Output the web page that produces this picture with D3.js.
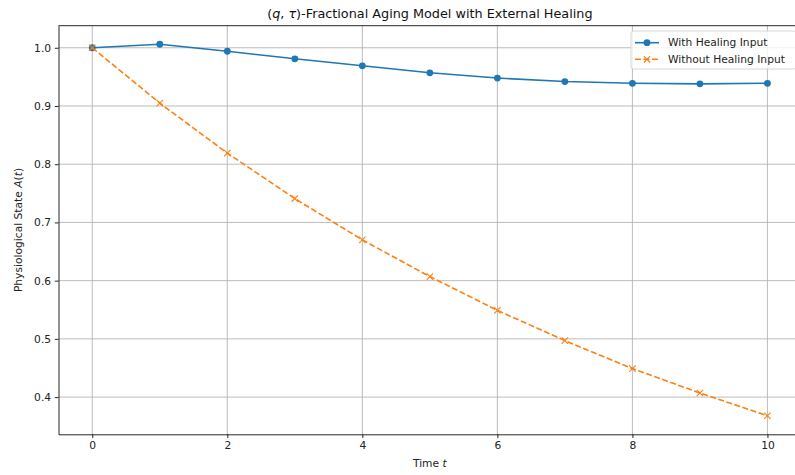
<!DOCTYPE html>
<html>
<head>
<meta charset="utf-8">
<script src="https://cdn.jsdelivr.net/npm/d3@7"></script>
<style>
  body { margin: 0; background: #fff; }
  text { font-family: "DejaVu Sans", sans-serif; }
</style>
</head>
<body>
<div id="wrapper"></div>
<script>
// data
const times = [0, 1, 2, 3, 4, 5, 6, 7, 8, 9, 10]
const withHealing = [1.000, 1.006, 0.994, 0.981, 0.969, 0.957, 0.948, 0.942, 0.939, 0.938, 0.939]
const withoutHealing = [1.000, 0.905, 0.819, 0.741, 0.670, 0.607, 0.549, 0.497, 0.449, 0.407, 0.368]
const xTicks = [0, 2, 4, 6, 8, 10]
const yTicks = [0.4, 0.5, 0.6, 0.7, 0.8, 0.9, 1.0]
const seriesNames = ["With Healing Input", "Without Healing Input"]
const colors = ["#1f77b4", "#ff7f0e"]

function drawChart() {
  const xAccessor = d => d.t
  const yAccessor = d => d.v

  const series = [withHealing, withoutHealing].map((vals, i) => ({
    name: seriesNames[i],
    color: colors[i],
    values: vals.map((v, j) => ({ t: times[j], v: v })),
  }))

  let dimensions = {
    width: 795,
    height: 475,
    margin: {
      top: 25.7,
      right: -6.2,
      bottom: 40.7,
      left: 58.5,
    },
  }
  dimensions.boundedWidth = dimensions.width
    - dimensions.margin.left
    - dimensions.margin.right
  dimensions.boundedHeight = dimensions.height
    - dimensions.margin.top
    - dimensions.margin.bottom

  const wrapper = d3.select("#wrapper")
    .append("svg")
    .attr("width", dimensions.width)
    .attr("height", dimensions.height)

  const bounds = wrapper.append("g")
    .attr("transform", `translate(${dimensions.margin.left}, ${dimensions.margin.top})`)

  // matplotlib style 5% margins
  const xExt = d3.extent(times)
  const xPad = (xExt[1] - xExt[0]) * 0.05
  const allY = withHealing.concat(withoutHealing)
  const yExt = d3.extent(allY)
  const yPad = (yExt[1] - yExt[0]) * 0.05

  const xScaler = d3.scaleLinear()
    .domain([xExt[0] - xPad, xExt[1] + xPad])
    .range([0, dimensions.boundedWidth])

  const yScaler = d3.scaleLinear()
    .domain([yExt[0] - yPad, yExt[1] + yPad])
    .range([dimensions.boundedHeight, 0])

  // grid
  const grid = bounds.append("g")
  grid.selectAll(".gx")
    .data(xTicks)
    .enter()
    .append("line")
    .attr("x1", d => xScaler(d))
    .attr("x2", d => xScaler(d))
    .attr("y1", 0)
    .attr("y2", dimensions.boundedHeight)
    .attr("stroke", "#b0b0b0")
    .attr("stroke-width", 0.85)
  grid.selectAll(".gy")
    .data(yTicks)
    .enter()
    .append("line")
    .attr("x1", 0)
    .attr("x2", dimensions.boundedWidth)
    .attr("y1", d => yScaler(d))
    .attr("y2", d => yScaler(d))
    .attr("stroke", "#b0b0b0")
    .attr("stroke-width", 0.85)

  // axes
  const xAxis = bounds.append("g")
    .attr("transform", `translate(0, ${dimensions.boundedHeight})`)
    .call(d3.axisBottom(xScaler).tickValues(xTicks).tickFormat(d3.format("d"))
      .tickSizeInner(3.7).tickSizeOuter(0).tickPadding(3.7))
  const yAxis = bounds.append("g")
    .call(d3.axisLeft(yScaler).tickValues(yTicks).tickFormat(d3.format(".1f"))
      .tickSizeInner(3.7).tickSizeOuter(0).tickPadding(3.7))

  ;[xAxis, yAxis].forEach(ax => {
    ax.select(".domain").attr("stroke", "#000").attr("stroke-width", 0.85)
    ax.selectAll(".tick line").attr("stroke", "#000").attr("stroke-width", 0.85)
    ax.selectAll(".tick text")
      .attr("font-family", "DejaVu Sans")
      .attr("font-size", "10.7px")
      .attr("fill", "#222")
  })

  // top spine (right one is off the canvas)
  bounds.append("line")
    .attr("x1", 0).attr("x2", dimensions.boundedWidth)
    .attr("y1", 0).attr("y2", 0)
    .attr("stroke", "#000").attr("stroke-width", 0.85)

  const lineGen = d3.line()
    .x(d => xScaler(xAccessor(d)))
    .y(d => yScaler(yAccessor(d)))

  // series 0: solid with circles
  bounds.append("path")
    .datum(series[0].values)
    .attr("d", lineGen)
    .attr("fill", "none")
    .attr("stroke", series[0].color)
    .attr("stroke-width", 1.6)
  bounds.append("g").selectAll("circle")
    .data(series[0].values)
    .enter()
    .append("circle")
    .attr("cx", d => xScaler(xAccessor(d)))
    .attr("cy", d => yScaler(yAccessor(d)))
    .attr("r", 3.4)
    .attr("fill", series[0].color)

  // series 1: dashed with x markers
  bounds.append("path")
    .datum(series[1].values)
    .attr("d", lineGen)
    .attr("fill", "none")
    .attr("stroke", series[1].color)
    .attr("stroke-width", 1.6)
    .attr("stroke-dasharray", "5.9 2.6")
  const xMark = (g, s) => g
    .attr("d", `M${-s},${-s}L${s},${s}M${-s},${s}L${s},${-s}`)
    .attr("stroke", series[1].color)
    .attr("stroke-width", 1.1)
    .attr("fill", "none")
  bounds.append("g").selectAll("path")
    .data(series[1].values)
    .enter()
    .append("path")
    .attr("transform", d => `translate(${xScaler(xAccessor(d))}, ${yScaler(yAccessor(d))})`)
    .call(xMark, 3.2)

  // title
  const title = wrapper.append("text")
    .attr("x", dimensions.margin.left + dimensions.boundedWidth / 2)
    .attr("y", 18)
    .attr("text-anchor", "middle")
    .attr("font-size", "12.8px")
    .attr("fill", "#111")
  title.append("tspan").text("(")
  title.append("tspan").attr("font-style", "italic").text("q")
  title.append("tspan").text(", ")
  title.append("tspan").attr("font-style", "italic").text("τ")
  title.append("tspan").text(")-Fractional Aging Model with External Healing")

  // axis labels
  const xLabel = wrapper.append("text")
    .attr("x", dimensions.margin.left + dimensions.boundedWidth / 2)
    .attr("y", 467)
    .attr("text-anchor", "middle")
    .attr("font-size", "10.7px")
    .attr("fill", "#222")
  xLabel.append("tspan").text("Time ")
  xLabel.append("tspan").attr("font-style", "italic").text("t")

  const yLabel = wrapper.append("text")
    .attr("transform", `translate(22, ${dimensions.margin.top + dimensions.boundedHeight / 2}) rotate(-90)`)
    .attr("text-anchor", "middle")
    .attr("font-size", "10.7px")
    .attr("fill", "#222")
  yLabel.append("tspan").text("Physiological State ")
  yLabel.append("tspan").attr("font-style", "italic").text("A")
  yLabel.append("tspan").text("(")
  yLabel.append("tspan").attr("font-style", "italic").text("t")
  yLabel.append("tspan").text(")")

  // legend
  const legend = wrapper.append("g")
    .attr("transform", "translate(631, 31)")
  legend.append("rect")
    .attr("x", 0).attr("y", 0)
    .attr("width", 165).attr("height", 38)
    .attr("rx", 2.5)
    .attr("fill", "#fff").attr("fill-opacity", 0.8)
    .attr("stroke", "#d0d0d0").attr("stroke-width", 0.85)
  const rowH = 16.6
  series.forEach((s, i) => {
    const cy = 11.7 + i * rowH
    const row = legend.append("g").attr("transform", `translate(0, ${cy})`)
    row.append("line")
      .attr("x1", 4).attr("x2", 28)
      .attr("stroke", s.color).attr("stroke-width", 1.6)
      .attr("stroke-dasharray", i === 1 ? "5.9 2.6" : null)
    if (i === 0) {
      row.append("circle").attr("cx", 16).attr("r", 3.4).attr("fill", s.color)
    } else {
      row.append("path").attr("transform", "translate(16, 0)").call(xMark, 3.2)
    }
    row.append("text")
      .attr("x", 37)
      .attr("dy", "0.35em")
      .attr("font-size", "10.7px")
      .attr("fill", "#222")
      .text(s.name)
  })
}

drawChart()
</script>
</body>
</html>
